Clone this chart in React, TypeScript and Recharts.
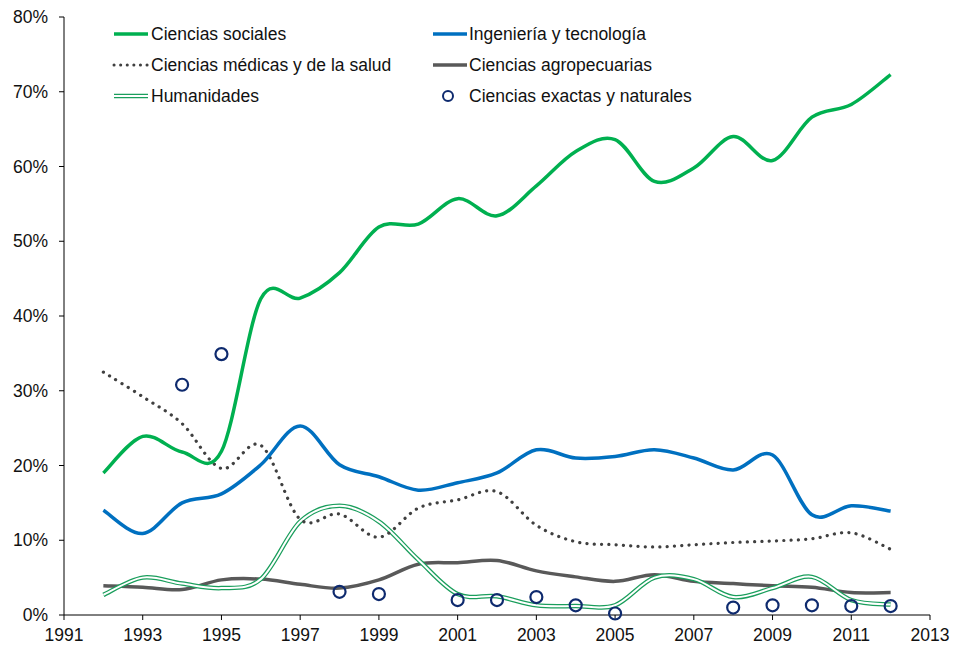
import { LineChart, Line, XAxis, YAxis, Legend } from 'recharts';

const years = [1992, 1993, 1994, 1995, 1996, 1997, 1998, 1999, 2000, 2001, 2002, 2003, 2004, 2005, 2006, 2007, 2008, 2009, 2010, 2011, 2012];

const sociales = [19.0, 23.9, 21.8, 21.9, 42.3, 42.4, 45.8, 51.9, 52.3, 55.7, 53.4, 57.4, 62.0, 63.6, 58.0, 59.8, 64.0, 60.8, 66.6, 68.3, 72.3];
const ingenieria = [14.0, 10.9, 15.0, 16.2, 20.1, 25.3, 20.1, 18.5, 16.7, 17.7, 19.0, 22.1, 21.0, 21.2, 22.1, 21.0, 19.4, 21.4, 13.4, 14.6, 13.9];
const medicas = [32.5, 29.2, 25.6, 19.6, 22.7, 12.8, 13.5, 10.4, 14.3, 15.4, 16.5, 12.0, 9.8, 9.4, 9.1, 9.4, 9.7, 9.9, 10.2, 11.0, 8.8];
const agropecuarias = [3.9, 3.7, 3.4, 4.7, 4.8, 4.1, 3.6, 4.7, 6.8, 7.0, 7.3, 5.9, 5.1, 4.5, 5.4, 4.5, 4.2, 3.9, 3.7, 3.0, 3.0];
const humanidades = [2.7, 5.0, 4.2, 3.6, 4.8, 12.5, 14.6, 12.5, 7.4, 2.8, 2.5, 1.3, 1.2, 1.3, 5.0, 4.8, 2.4, 3.6, 5.1, 2.0, 1.4];
const exactas = [null, null, 30.8, 34.9, null, null, 3.1, 2.8, null, 2.0, 2.0, 2.4, 1.3, 0.2, null, null, 1.0, 1.3, 1.3, 1.2, 1.2];

const xTicks = [1991, 1993, 1995, 1997, 1999, 2001, 2003, 2005, 2007, 2009, 2011, 2013];
const yTicks = [0, 0.1, 0.2, 0.3, 0.4, 0.5, 0.6, 0.7, 0.8];

const data = years.map((year, i) => ({
  year,
  sociales: sociales[i] / 100,
  ingenieria: ingenieria[i] / 100,
  medicas: medicas[i] / 100,
  agropecuarias: agropecuarias[i] / 100,
  humanidades: humanidades[i] / 100,
  exactas: exactas[i] == null ? null : (exactas[i] as number) / 100,
}));

const GREEN = '#00B050';
const BLUE = '#0070C0';
const DOT_GRAY = '#404040';
const AGRO = '#595959';
const HUM = '#1A9E5C';
const NAVY = '#0E2A6E';
const FONT = '"Liberation Sans", Arial, Helvetica, sans-serif';
const FONT_SIZE = 17.5;

// smooth curve similar to spreadsheet "smoothed line" (catmull-rom style bezier)
const smoothCurve = (context: any) => {
  let pts: number[][] = [];
  return {
    areaStart() {},
    areaEnd() {},
    lineStart() {
      pts = [];
    },
    point(x: number, y: number) {
      pts.push([+x, +y]);
    },
    lineEnd() {
      if (!pts.length) return;
      context.moveTo(pts[0][0], pts[0][1]);
      for (let i = 0; i < pts.length - 1; i++) {
        const p0 = pts[i - 1] || pts[i];
        const p1 = pts[i];
        const p2 = pts[i + 1];
        const p3 = pts[i + 2] || p2;
        context.bezierCurveTo(
          p1[0] + (p2[0] - p0[0]) / 6,
          p1[1] + (p2[1] - p0[1]) / 6,
          p2[0] - (p3[0] - p1[0]) / 6,
          p2[1] - (p3[1] - p1[1]) / 6,
          p2[0],
          p2[1]
        );
      }
    },
  };
};

const renderLegend = () => {
  const rows = [34, 65, 96];
  const textStyle = { fontFamily: FONT, fontSize: FONT_SIZE, fill: '#111' };
  return (
    <svg width={954} height={115} style={{ display: 'block' }}>
      <line x1={114} x2={148} y1={rows[0]} y2={rows[0]} stroke={GREEN} strokeWidth={3.5} />
      <text x={151} y={rows[0]} dy="0.35em" {...textStyle}>Ciencias sociales</text>

      <line x1={114} x2={148} y1={rows[1]} y2={rows[1]} stroke={DOT_GRAY} strokeWidth={3} strokeDasharray="0.1 6.5" strokeLinecap="round" />
      <text x={151} y={rows[1]} dy="0.35em" {...textStyle}>Ciencias médicas y de la salud</text>

      <line x1={114} x2={148} y1={rows[2]} y2={rows[2]} stroke={HUM} strokeWidth={4.5} />
      <line x1={114} x2={148} y1={rows[2]} y2={rows[2]} stroke="#fff" strokeWidth={2} />
      <text x={151} y={rows[2]} dy="0.35em" {...textStyle}>Humanidades</text>

      <line x1={433} x2={467} y1={rows[0]} y2={rows[0]} stroke={BLUE} strokeWidth={3.5} />
      <text x={469} y={rows[0]} dy="0.35em" {...textStyle}>Ingeniería y tecnología</text>

      <line x1={433} x2={467} y1={rows[1]} y2={rows[1]} stroke={AGRO} strokeWidth={3.5} />
      <text x={469} y={rows[1]} dy="0.35em" {...textStyle}>Ciencias agropecuarias</text>

      <circle cx={448} cy={rows[2]} r={5} stroke={NAVY} strokeWidth={2} fill="#fff" />
      <text x={469} y={rows[2]} dy="0.35em" {...textStyle}>Ciencias exactas y naturales</text>
    </svg>
  );
};

export default function App() {
  const tickStyle = { fontFamily: FONT, fontSize: FONT_SIZE, fill: '#111' };
  return (
    <div style={{ position: 'absolute', left: 0, top: 0, background: '#fff' }}>
      <LineChart width={954} height={645} data={data} margin={{ top: 17, right: 24, left: 0, bottom: 0 }}>
        <XAxis
          dataKey="year"
          type="number"
          domain={[1991, 2013]}
          ticks={xTicks}
          interval={0}
          height={30}
          tickSize={5}
          tickMargin={9}
          stroke="#000"
          tick={tickStyle}
          axisLine={{ stroke: '#000', strokeWidth: 1 }}
          tickLine={{ stroke: '#000' }}
        />
        <YAxis
          type="number"
          domain={[0, 0.8]}
          ticks={yTicks}
          interval={0}
          width={64}
          tickSize={5}
          tickMargin={11}
          stroke="#000"
          tick={tickStyle}
          tickFormatter={(v: number) => `${Math.round(v * 100)}%`}
          axisLine={{ stroke: '#000', strokeWidth: 1 }}
          tickLine={{ stroke: '#000' }}
        />
        <Legend
          layout="horizontal"
          verticalAlign="middle"
          align="center"
          content={renderLegend}
          wrapperStyle={{ position: 'absolute', left: 0, top: 0, width: 954, height: 115 }}
        />
        <Line dataKey="agropecuarias" type={smoothCurve as any} stroke={AGRO} strokeWidth={3.5} dot={false} isAnimationActive={false} />
        <Line dataKey="humanidades" type={smoothCurve as any} stroke={HUM} strokeWidth={4.5} dot={false} isAnimationActive={false} legendType="none" />
        <Line dataKey="humanidades" type={smoothCurve as any} stroke="#fff" strokeWidth={2} dot={false} isAnimationActive={false} legendType="none" />
        <Line dataKey="medicas" type={smoothCurve as any} stroke={DOT_GRAY} strokeWidth={3.2} strokeDasharray="0.1 7.2" strokeLinecap="round" dot={false} isAnimationActive={false} />
        <Line dataKey="ingenieria" type={smoothCurve as any} stroke={BLUE} strokeWidth={3.5} dot={false} isAnimationActive={false} />
        <Line dataKey="sociales" type={smoothCurve as any} stroke={GREEN} strokeWidth={3.5} dot={false} isAnimationActive={false} />
        <Line
          dataKey="exactas"
          stroke="none"
          connectNulls={false}
          dot={{ r: 6, stroke: NAVY, strokeWidth: 2.2, fill: 'none' }}
          isAnimationActive={false}
        />
      </LineChart>
    </div>
  );
}
